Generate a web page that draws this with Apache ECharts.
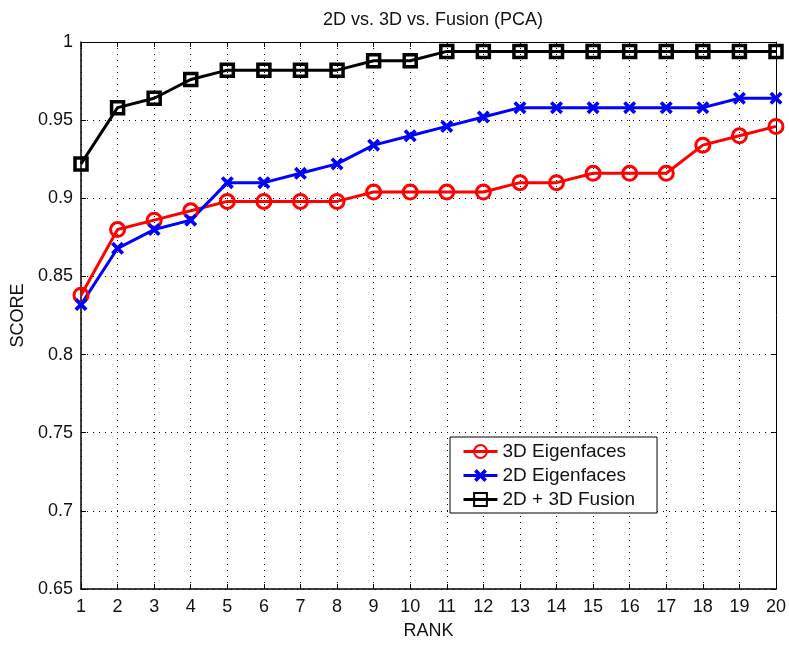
<!DOCTYPE html>
<html lang="en">
<head>
    <meta charset="UTF-8">
    <title>2D vs. 3D vs. Fusion (PCA)</title>
    <script src="https://cdn.jsdelivr.net/npm/echarts@6/dist/echarts.min.js"></script>
    <style>
        html, body { margin: 0; padding: 0; background: #fff; }
    </style>
</head>
<body>
<div id="main" style="width: 789px;height:646px;"></div>
<script type="text/javascript">
    // data
    var rankData = [1, 2, 3, 4, 5, 6, 7, 8, 9, 10, 11, 12, 13, 14, 15, 16, 17, 18, 19, 20];
    var eigen3d = [0.838, 0.880, 0.886, 0.892, 0.898, 0.898, 0.898, 0.898, 0.904, 0.904,
        0.904, 0.904, 0.910, 0.910, 0.916, 0.916, 0.916, 0.934, 0.940, 0.946];
    var eigen2d = [0.832, 0.868, 0.880, 0.886, 0.910, 0.910, 0.916, 0.922, 0.934, 0.940,
        0.946, 0.952, 0.958, 0.958, 0.958, 0.958, 0.958, 0.958, 0.964, 0.964];
    var fusion = [0.922, 0.958, 0.964, 0.976, 0.982, 0.982, 0.982, 0.982, 0.988, 0.988,
        0.994, 0.994, 0.994, 0.994, 0.994, 0.994, 0.994, 0.994, 0.994, 0.994];
    var seriesNames = ['3D Eigenfaces', '2D Eigenfaces', '2D + 3D Fusion'];

    function pairs(vals) {
        var out = [];
        for (var i = 0; i < rankData.length; i++) {
            out.push([rankData[i], vals[i]]);
        }
        return out;
    }

    var font = 'Liberation Sans, Arial, Helvetica, sans-serif';
    var xMark = 'path://M2,0 L5,3 L8,0 L10,2 L7,5 L10,8 L8,10 L5,7 L2,10 L0,8 L3,5 L0,2 Z';
    var dotted = {color: '#000', width: 1, type: [1, 5]};

    var myChart = echarts.init(document.getElementById('main'));
    var option = {
        backgroundColor: '#fff',
        animation: false,
        textStyle: {fontFamily: font},
        title: {
            text: '2D vs. 3D vs. Fusion (PCA)',
            left: 428,
            top: 6,
            textAlign: 'center',
            textStyle: {fontFamily: font, fontSize: 18, fontWeight: 'normal', color: '#111'}
        },
        legend: {
            orient: 'vertical',
            left: 450,
            top: 437,
            padding: [5, 22, 4, 12],
            itemGap: 5,
            itemWidth: 34,
            itemHeight: 16,
            backgroundColor: '#fff',
            borderColor: '#000',
            borderWidth: 1,
            borderRadius: 0,
            lineStyle: {width: 3},
            textStyle: {fontFamily: font, fontSize: 19, color: '#111', lineHeight: 18},
            data: seriesNames
        },
        grid: {left: 81, right: 13, top: 42, bottom: 57},
        xAxis: [
            {
                type: 'value',
                min: 1,
                max: 20,
                interval: 1,
                name: 'RANK',
                nameLocation: 'middle',
                nameGap: 33,
                nameTextStyle: {fontFamily: font, fontSize: 18, color: '#111'},
                axisLine: {lineStyle: {color: '#000', width: 1.5}},
                axisTick: {inside: true, length: 5, lineStyle: {color: '#000'}},
                axisLabel: {fontFamily: font, fontSize: 18, color: '#111', margin: 9},
                splitLine: {show: true, lineStyle: dotted}
            },
            {
                type: 'value',
                position: 'top',
                min: 1,
                max: 20,
                interval: 1,
                axisLine: {show: true, lineStyle: {color: '#000', width: 1}},
                axisTick: {inside: true, length: 5, lineStyle: {color: '#000'}},
                axisLabel: {show: false},
                splitLine: {show: false}
            }
        ],
        yAxis: [
            {
                type: 'value',
                min: 0.65,
                max: 1,
                interval: 0.05,
                name: 'SCORE',
                nameLocation: 'middle',
                nameGap: 54,
                nameTextStyle: {fontFamily: font, fontSize: 18, color: '#111'},
                axisLine: {show: true, lineStyle: {color: '#000', width: 1.5}},
                axisTick: {show: true, inside: true, length: 5, lineStyle: {color: '#000'}},
                axisLabel: {
                    fontFamily: font, fontSize: 18, color: '#111', margin: 8,
                    formatter: function (v) { return String(parseFloat(v.toFixed(2))); }
                },
                splitLine: {show: true, lineStyle: dotted}
            },
            {
                type: 'value',
                position: 'right',
                min: 0.65,
                max: 1,
                interval: 0.05,
                axisLine: {show: true, lineStyle: {color: '#000', width: 1}},
                axisTick: {show: true, inside: true, length: 5, lineStyle: {color: '#000'}},
                axisLabel: {show: false},
                splitLine: {show: false}
            }
        ],
        series: [
            {
                name: seriesNames[0],
                type: 'line',
                data: pairs(eigen3d),
                symbol: 'circle',
                symbolSize: 14,
                lineStyle: {color: '#ff0000', width: 3},
                itemStyle: {color: 'rgba(0,0,0,0)', borderColor: '#ff0000', borderWidth: 3},
                emphasis: {disabled: true}
            },
            {
                name: seriesNames[1],
                type: 'line',
                data: pairs(eigen2d),
                symbol: xMark,
                symbolSize: 13,
                lineStyle: {color: '#0000ff', width: 3},
                itemStyle: {color: '#0000ff', borderWidth: 0},
                emphasis: {disabled: true}
            },
            {
                name: seriesNames[2],
                type: 'line',
                data: pairs(fusion),
                symbol: 'rect',
                symbolSize: 12,
                lineStyle: {color: '#000', width: 3},
                itemStyle: {color: 'rgba(0,0,0,0)', borderColor: '#000', borderWidth: 3.5},
                emphasis: {disabled: true}
            }
        ]
    };
    myChart.setOption(option);
</script>
</body>
</html>
